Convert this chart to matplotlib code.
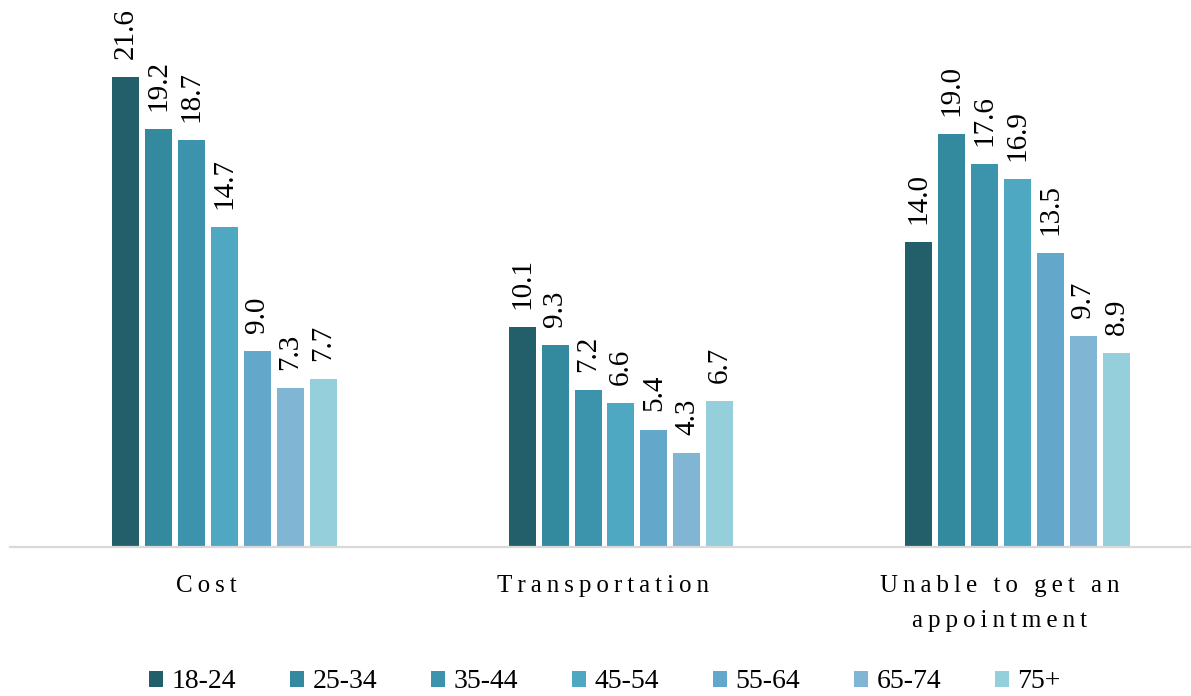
import numpy as np
import matplotlib
matplotlib.use("Agg")
import matplotlib.pyplot as plt
from matplotlib.patches import Patch

categories = ["Cost", "Transportation", "Unable to get an\nappointment"]
age_groups = ["18-24", "25-34", "35-44", "45-54", "55-64", "65-74", "75+"]

age_18_24 = [21.6, 10.1, 14.0]
age_25_34 = [19.2, 9.3, 19.0]
age_35_44 = [18.7, 7.2, 17.6]
age_45_54 = [14.7, 6.6, 16.9]
age_55_64 = [9.0, 5.4, 13.5]
age_65_74 = [7.3, 4.3, 9.7]
age_75_up = [7.7, 6.7, 8.9]
series = [age_18_24, age_25_34, age_35_44, age_45_54, age_55_64, age_65_74, age_75_up]

colors = ["#235e6b", "#338a9e", "#3c94ac", "#4fa8c1", "#63a8ca", "#80b6d3", "#96cfdc"]

SERIF = ["Liberation Serif", "DejaVu Serif"]
plt.rcParams["font.family"] = SERIF


def spaced(s):
    # widen letter spacing with thin spaces between characters
    return "\n".join("\u2009".join(line) for line in s.split("\n"))


fig = plt.figure(figsize=(11.91, 6.96), dpi=100)
ax = fig.add_axes((10 / 1191, 149 / 696, 1 - 10 / 1191, 1 - 149 / 696))

x = np.arange(len(categories))
step = 0.0832
width = 0.0681
for i, (vals, c) in enumerate(zip(series, colors)):
    pos = x + (i - 3) * step
    bars = ax.bar(pos, vals, width, color=c, label=age_groups[i])
    for b, v in zip(bars, vals):
        ax.annotate(f"{v:.1f}", (b.get_x() + b.get_width() / 2, v),
                    xytext=(0, 13), textcoords="offset points",
                    rotation=90, ha="center", va="bottom", fontsize=21)

ax.set_xlim(-0.541, 2.4376)
ax.set_ylim(0, 25.14)
for s in ["top", "left", "right"]:
    ax.spines[s].set_visible(False)
ax.spines["bottom"].set_color("#d9d9d9")
ax.spines["bottom"].set_linewidth(1.6)
ax.set_yticks([])
# category labels sit slightly left of the group centres
ax.set_xticks(x - 0.046)
ax.set_xticklabels([spaced(c) for c in categories], fontsize=18, linespacing=1.8)
ax.tick_params(axis="x", length=0, pad=20)

handles = [Patch(facecolor=c, label=g) for c, g in zip(colors, age_groups)]
fig.legend(handles=handles, loc="center", bbox_to_anchor=(605 / 1191, 1 - 682 / 696),
           ncol=7, frameon=False, fontsize=20, handlelength=0.5, handleheight=0.5,
           handletextpad=0.3, columnspacing=1.95)

fig.savefig("out.png", dpi=100)
